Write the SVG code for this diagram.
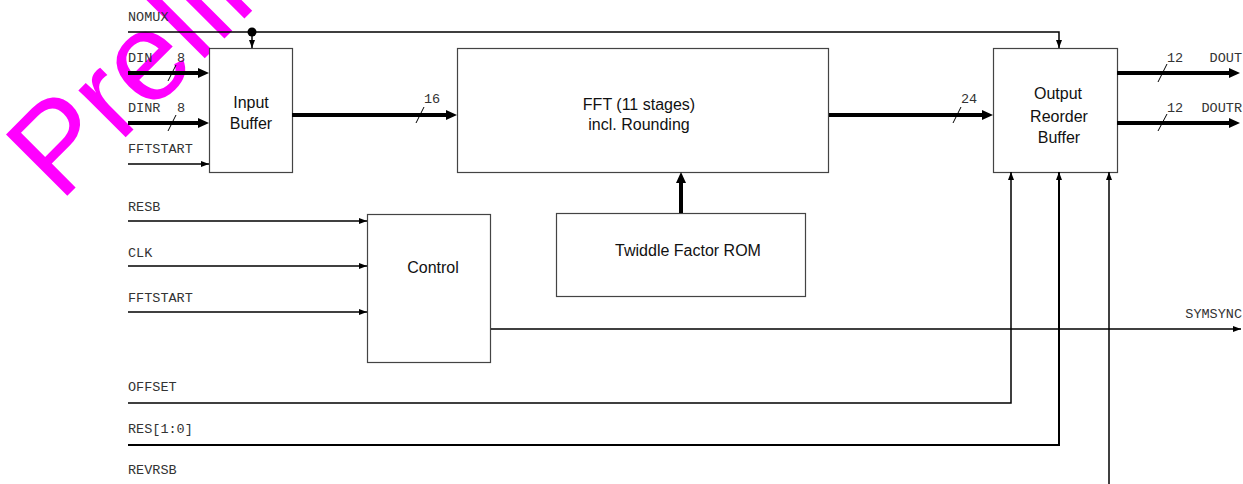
<svg xmlns="http://www.w3.org/2000/svg" width="1243" height="484" viewBox="0 0 1243 484">
<style>
.box{fill:#fff;stroke:#444;stroke-width:1.2}
.lbl{font-family:"Liberation Mono","Courier New",monospace;font-size:13.5px;fill:#333}
.blk{font-family:"Liberation Sans",Arial,sans-serif;font-size:16px;fill:#111;text-anchor:middle}
.w{fill:none;stroke:#000;stroke-width:1.5}
.bus{fill:none;stroke:#000;stroke-width:4}
.sl{fill:none;stroke:#000;stroke-width:1}
.wm{font-family:"Liberation Sans",Arial,sans-serif;font-size:126px;fill:#ff00ff}
</style>
<defs>
<marker id="big" markerUnits="userSpaceOnUse" markerWidth="12" markerHeight="10" refX="5" refY="5" orient="auto">
<path d="M0,0 L11,5 L0,10 z" fill="#000"/>
</marker>
<marker id="sm" markerUnits="userSpaceOnUse" markerWidth="9" markerHeight="7" refX="8" refY="3" orient="auto">
<path d="M0,0 L8,3 L0,6 z" fill="#000"/>
</marker>
</defs>
<rect width="1243" height="484" fill="#fff"/>
<text class="wm" transform="translate(60,203) rotate(-45)">Preliminary</text>

<g id="input-buffer"><rect class="box" x="209.5" y="48.5" width="83" height="124"/>
<text class="blk" x="251" y="108">Input</text><text class="blk" x="251" y="129">Buffer</text></g>
<g id="fft"><rect class="box" x="457.5" y="48.5" width="371" height="124"/>
<text class="blk" x="639" y="109.5">FFT (11 stages)</text><text class="blk" x="639" y="130">incl. Rounding</text></g>
<g id="output-reorder-buffer"><rect class="box" x="993.5" y="48.5" width="124" height="124"/>
<text class="blk" x="1058" y="99">Output</text><text class="blk" x="1059" y="121.5">Reorder</text><text class="blk" x="1059" y="142.5">Buffer</text></g>
<g id="twiddle-rom"><rect class="box" x="556.5" y="213.5" width="249" height="83"/>
<text class="blk" x="688" y="256">Twiddle Factor ROM</text></g>
<g id="control"><rect class="box" x="367.5" y="214.5" width="123" height="148"/>
<text class="blk" x="433" y="273">Control</text></g>

<g id="connectors">
<path class="w" d="M128,32 H1059 V48" marker-end="url(#sm)"/>
<circle cx="252" cy="32" r="4.5" fill="#000"/>
<path class="w" d="M252,32 V48" marker-end="url(#sm)"/>
<path class="bus" d="M128,73 H203" marker-end="url(#big)"/>
<path class="bus" d="M128,123 H203" marker-end="url(#big)"/>
<path class="w" d="M128,164 H209" marker-end="url(#sm)"/>
<path class="bus" d="M292,115 H451" marker-end="url(#big)"/>
<path class="bus" d="M829,115 H987" marker-end="url(#big)"/>
<path class="bus" d="M1117,73 H1234" marker-end="url(#big)"/>
<path class="bus" d="M1117,123 H1234" marker-end="url(#big)"/>
<path class="bus" d="M681,213 V178" marker-end="url(#big)"/>
<path class="w" d="M128,221 H367" marker-end="url(#sm)"/>
<path class="w" d="M128,266 H367" marker-end="url(#sm)"/>
<path class="w" d="M128,312 H367" marker-end="url(#sm)"/>
<path class="w" d="M491,329 H1241" marker-end="url(#sm)"/>
<path class="w" d="M128,403 H1011 V172" marker-end="url(#sm)"/>
<path class="w" d="M128,445 H1059 V172" marker-end="url(#sm)" style="stroke-width:2"/>
<path class="w" d="M1109,484 V172" marker-end="url(#sm)"/>
<path class="sl" d="M168,81 L176,65 M168,131 L176,115 M416,123 L424,107 M953,123 L961,107 M1158,82 L1167,64 M1158,131 L1167,114"/>
</g>

<g id="labels">
<text class="lbl" x="128" y="21">NOMUX</text>
<text class="lbl" x="128" y="62">DIN</text><text class="lbl" x="177" y="62">8</text>
<text class="lbl" x="128" y="112">DINR</text><text class="lbl" x="177" y="112">8</text>
<text class="lbl" x="128" y="153">FFTSTART</text>
<text class="lbl" x="424" y="103">16</text>
<text class="lbl" x="961" y="103">24</text>
<text class="lbl" x="1167" y="62">12</text><text class="lbl" x="1242" y="62" text-anchor="end">DOUT</text>
<text class="lbl" x="1167" y="112">12</text><text class="lbl" x="1242" y="112" text-anchor="end">DOUTR</text>
<text class="lbl" x="128" y="211">RESB</text>
<text class="lbl" x="128" y="257">CLK</text>
<text class="lbl" x="128" y="302">FFTSTART</text>
<text class="lbl" x="1242" y="318" text-anchor="end">SYMSYNC</text>
<text class="lbl" x="128" y="391">OFFSET</text>
<text class="lbl" x="128" y="433">RES[1:0]</text>
<text class="lbl" x="128" y="474">REVRSB</text>
</g>
</svg>
